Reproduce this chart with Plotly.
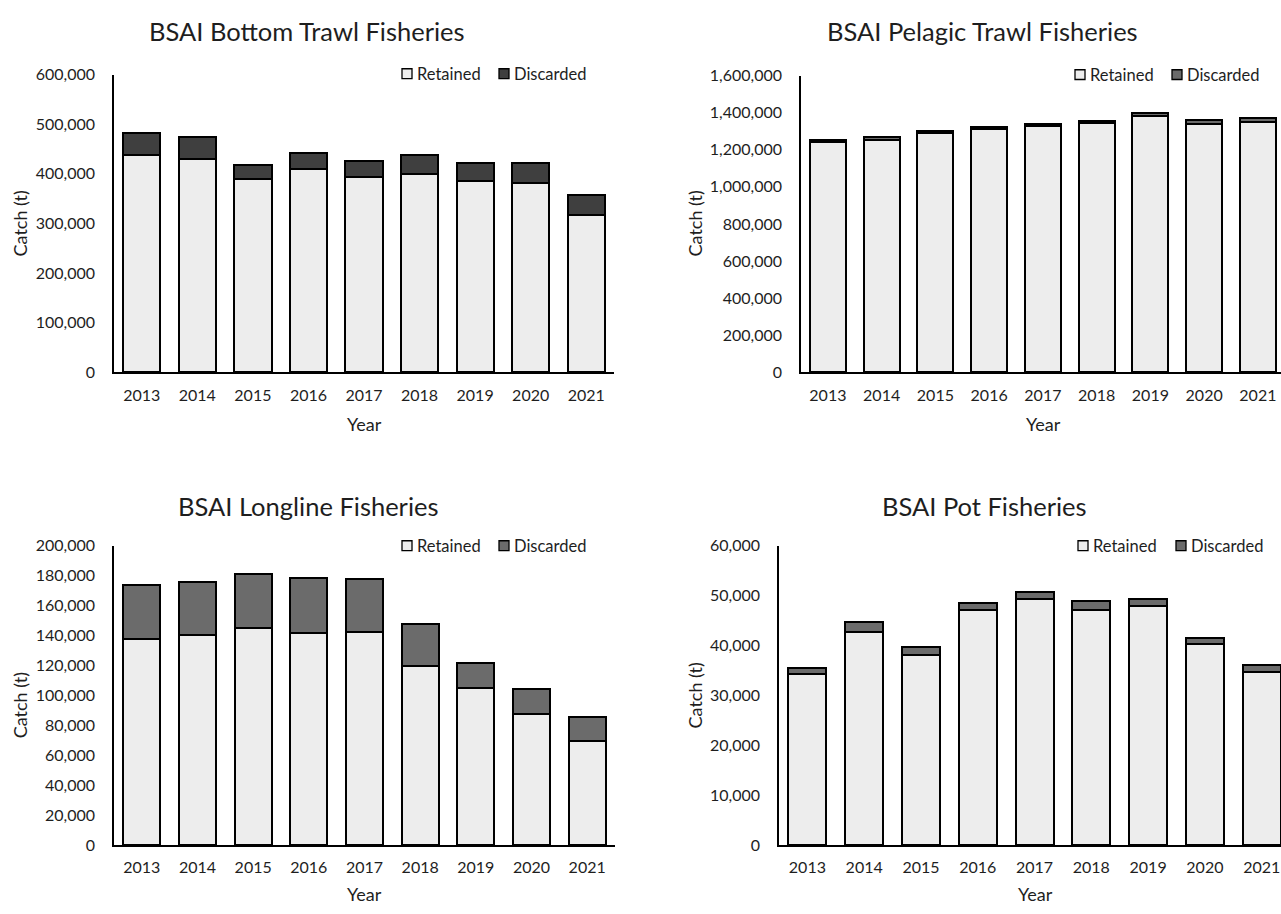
import plotly.graph_objects as go

W, H = 1281, 914

years = ["2013", "2014", "2015", "2016", "2017", "2018", "2019", "2020", "2021"]

# Catch (t) by fishery, retained and discarded
bottom_retained = [438400, 430500, 388900, 409400, 394200, 400100, 385000, 382300, 317700]
bottom_discarded = [43600, 44500, 28600, 33600, 31300, 38900, 37000, 39700, 40300]

pelagic_retained = [1243000, 1252000, 1288000, 1312000, 1328000, 1344000, 1381000, 1337000, 1350000]
pelagic_discarded = [12000, 16000, 15000, 13000, 13000, 13000, 15000, 25000, 22000]

longline_retained = [137800, 140200, 145300, 141800, 142400, 119800, 105300, 87900, 69900]
longline_discarded = [35800, 35400, 36000, 36400, 35000, 27700, 16500, 16300, 15600]

pot_retained = [34200, 42800, 38000, 47100, 49400, 47200, 47900, 40300, 34600]
pot_discarded = [1300, 1900, 1700, 1400, 1400, 1700, 1400, 1300, 1500]

titles = ["BSAI Bottom Trawl Fisheries", "BSAI Pelagic Trawl Fisheries",
          "BSAI Longline Fisheries", "BSAI Pot Fisheries"]

FONT = "Lato"
TXT = "#1e1e1e"
RET_FILL = "#EDEDED"
DARK_DISC = "#3F3F3F"
MID_DISC = "#6B6B6B"


def px(x):
    return x / W


def py(y):
    return 1 - y / H


# panel geometry in page pixels: plot left/right, top (axis max) and zero line
panels = [
    dict(ret=bottom_retained, dis=bottom_discarded, disc_col=DARK_DISC,
         left=114, right=614, top=66, zero=370, ymax=600000, dtick=100000,
         xr=[-0.5, 8.5], title_xy=(307, 21), year_xy=(364, 423), catch_xy=(20, 218),
         leg=(402, 499, 65)),
    dict(ret=pelagic_retained, dis=pelagic_discarded, disc_col=MID_DISC,
         left=801, right=1281, top=67, zero=370, ymax=1600000, dtick=200000,
         xr=[-0.5, 8.43], title_xy=(982, 21), year_xy=(1043, 423), catch_xy=(695, 218),
         leg=(1075, 1172, 66)),
    dict(ret=longline_retained, dis=longline_discarded, disc_col=MID_DISC,
         left=114, right=615, top=547, zero=853, ymax=200000, dtick=20000,
         xr=[-0.5, 8.5], title_xy=(308, 507), year_xy=(364, 903), catch_xy=(20, 710),
         leg=(402, 499, 547)),
    dict(ret=pot_retained, dis=pot_discarded, disc_col=MID_DISC,
         left=779, right=1281, top=547, zero=853, ymax=60000, dtick=10000,
         xr=[-0.5, 8.34], title_xy=(984, 507), year_xy=(1035, 903), catch_xy=(695, 700),
         leg=(1078, 1176, 547)),
]

fig = go.Figure()
annotations = []
shapes = []
layout_axes = {}

for i, p in enumerate(panels):
    n = "" if i == 0 else str(i + 1)
    xa, ya = "x" + n, "y" + n
    fig.add_trace(go.Bar(x=years, y=p["ret"], name="Retained", xaxis=xa, yaxis=ya,
                         marker=dict(color=RET_FILL, line=dict(color="black", width=2)),
                         showlegend=False))
    fig.add_trace(go.Bar(x=years, y=p["dis"], name="Discarded", xaxis=xa, yaxis=ya,
                         marker=dict(color=p["disc_col"], line=dict(color="black", width=2)),
                         showlegend=False))

    layout_axes["xaxis" + n] = dict(
        domain=[px(p["left"]), px(p["right"])], anchor=ya, type="category",
        range=p["xr"], showline=True, linecolor="black", linewidth=2,
        showgrid=False, ticks="", ticklabelstandoff=7,
        tickfont=dict(family=FONT, size=16, color=TXT), fixedrange=True)
    layout_axes["yaxis" + n] = dict(
        domain=[py(p["zero"]), py(p["top"])], anchor=xa,
        range=[0, p["ymax"]], dtick=p["dtick"], tick0=0, tickformat=",",
        showline=True, linecolor="black", linewidth=1.5, showgrid=False,
        zeroline=False, ticks="", ticklabelstandoff=14,
        tickfont=dict(family=FONT, size=16, color=TXT))

    tx, ty = p["title_xy"]
    annotations.append(dict(text=titles[i], x=px(tx), y=py(ty), xref="paper", yref="paper",
                            xanchor="center", yanchor="middle", showarrow=False,
                            font=dict(family=FONT, size=25.5, color=TXT)))
    yx, yy = p["year_xy"]
    annotations.append(dict(text="Year", x=px(yx), y=py(yy), xref="paper", yref="paper",
                            xanchor="center", yanchor="middle", showarrow=False,
                            font=dict(family=FONT, size=18, color=TXT)))
    cx, cy = p["catch_xy"]
    annotations.append(dict(text="Catch (t)", x=px(cx), y=py(cy), xref="paper", yref="paper",
                            xanchor="center", yanchor="middle", showarrow=False, textangle=-90,
                            font=dict(family=FONT, size=18, color=TXT)))

    # legend: square swatch followed by its label
    rx, dx, ly = p["leg"]
    for bx, col, label in [(rx, RET_FILL, "Retained"), (dx, p["disc_col"], "Discarded")]:
        shapes.append(dict(type="rect", xref="paper", yref="paper",
                           x0=px(bx), x1=px(bx + 10), y0=py(ly + 5), y1=py(ly - 5),
                           fillcolor=col, line=dict(color="black", width=1.3)))
        annotations.append(dict(text=label, x=px(bx + 13), y=py(ly), xref="paper", yref="paper",
                                xanchor="left", yanchor="middle", showarrow=False,
                                font=dict(family=FONT, size=16.5, color=TXT)))

fig.update_layout(
    width=W, height=H, margin=dict(l=0, r=0, t=0, b=0),
    paper_bgcolor="white", plot_bgcolor="white",
    barmode="stack", bargap=0.33,
    annotations=annotations, shapes=shapes,
    **layout_axes,
)

fig.write_html("out.html", config={"displayModeBar": False})
